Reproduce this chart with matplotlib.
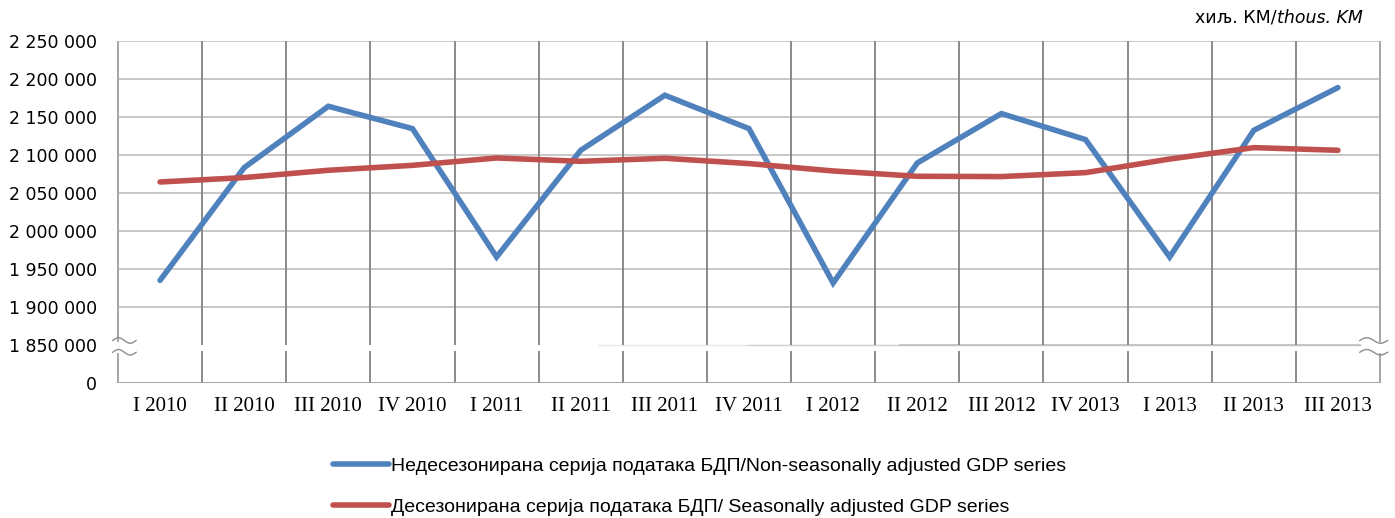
import numpy as np
import matplotlib
matplotlib.use("Agg")
import matplotlib.pyplot as plt
import matplotlib.transforms as mtransforms

quarters = ["I 2010", "II 2010", "III 2010", "IV 2010",
            "I 2011", "II 2011", "III 2011", "IV 2011",
            "I 2012", "II 2012", "III 2012", "IV 2013",
            "I 2013", "II 2013", "III 2013"]
non_sa = [1935100, 2083400, 2164100, 2134700,
          1965800, 2106200, 2178600, 2134700,
          1931600, 2089500, 2154500, 2120300,
          1965800, 2132500, 2188700]
sa = [2064500, 2070300, 2079900, 2086400,
      2096100, 2091700, 2095700, 2088700,
      2079000, 2072000, 2071600, 2076800,
      2094700, 2109700, 2106200]
ytick_vals = [1800000, 1850000, 1900000, 1950000, 2000000, 2050000,
              2100000, 2150000, 2200000, 2250000]
ytick_labels = ["0", "1 850 000", "1 900 000", "1 950 000", "2 000 000",
                "2 050 000", "2 100 000", "2 150 000", "2 200 000", "2 250 000"]
label_non_sa = "Недесезонирана серија података БДП/Non-seasonally adjusted GDP series"
label_sa = "Десезонирана серија података БДП/ Seasonally adjusted GDP series"

BLUE = "#4F81BD"
RED = "#C0504D"
VGRID = "#8a8a8a"
HGRID = "#bfbfbf"
AXIS = "#a6a6a6"

fig = plt.figure(figsize=(13.95, 5.18), dpi=100)
ax = fig.add_axes([118 / 1395, 1 - 383 / 518, 1262 / 1395, 342 / 518])

x = np.arange(len(quarters))
ymin, ymax = ytick_vals[0], ytick_vals[-1]
gap_lo = 1841500  # broken axis gap

# horizontal grid
for v in ytick_vals[2:]:
    ax.axhline(v, color=HGRID, lw=1.2, zorder=1)
# the 1 850 000 line fades in from the left
ax.axhline(ytick_vals[1], xmin=0.38, xmax=0.984, color="#e6e6e6", lw=1.0, zorder=1)
ax.axhline(ytick_vals[1], xmin=0.50, xmax=0.984, color="#d2d2d2", lw=1.0, zorder=1)
ax.axhline(ytick_vals[1], xmin=0.62, xmax=0.984, color=HGRID, lw=1.2, zorder=1)

# vertical grid, broken
bounds = x[:-1] + 0.5
ax.vlines(bounds, ytick_vals[1], ymax, color=VGRID, lw=1.4, zorder=1)
ax.vlines(bounds, ymin, gap_lo, color=VGRID, lw=1.4, zorder=1)

# side axes, broken
for xe in (-0.5, len(quarters) - 0.5):
    ax.vlines(xe, ytick_vals[1] + 4000, ymax, color=AXIS, lw=1.4, zorder=2, clip_on=False)
    ax.vlines(xe, ymin, gap_lo - 1500, color=AXIS, lw=1.4, zorder=2, clip_on=False)
ax.axhline(ymin, color=AXIS, lw=1.4, zorder=2)

ax.plot(x, non_sa, color=BLUE, lw=4.0, solid_capstyle="round", solid_joinstyle="miter", zorder=3,
        label=label_non_sa)
ax.plot(x, sa, color=RED, lw=4.0, solid_capstyle="round", zorder=3, label=label_sa)

# break marks
trans = mtransforms.blended_transform_factory(ax.transAxes, ax.transAxes)
t = np.linspace(0, 2 * np.pi, 40)
for x0, x1 in ((-0.0042, 0.0143), (0.984, 1.006)):
    xs = x0 + (x1 - x0) * t / (2 * np.pi)
    for yc in (0.1243, 0.0898):
        ax.plot(xs, yc + 0.008 * np.sin(t), color="#8c8c8c", lw=1.0, transform=trans,
                clip_on=False, zorder=4)

ax.set_xlim(-0.5, len(quarters) - 0.5)
ax.set_ylim(ymin, ymax)
ax.set_xticks(x)
ax.set_xticklabels(quarters, family=["Liberation Serif"], fontsize=15)
ax.set_yticks(ytick_vals)
ax.set_yticklabels(ytick_labels, family=["DejaVu Sans"], fontsize=12.5)
ax.tick_params(length=0)
ax.tick_params(axis="y", pad=15)
ax.tick_params(axis="x", pad=10)
for s in ax.spines.values():
    s.set_visible(False)

fig.text(1277 / 1395, 1 - 18 / 518, "хиљ. КМ/", ha="right", va="center", fontsize=12.5,
         family=["DejaVu Sans"])
fig.text(1277 / 1395, 1 - 18 / 518, "thous. KM", ha="left", va="center", fontsize=12.5,
         family=["DejaVu Sans"], style="italic")

fig.legend(loc="upper left", bbox_to_anchor=(333 / 1395, 1 - 457 / 518), frameon=False,
           prop={"family": ["Liberation Sans", "DejaVu Sans"], "size": 14},
           handlelength=2.9, handletextpad=0.1, labelspacing=1.2, borderpad=0,
           borderaxespad=0)

fig.savefig("out.png", dpi=100)
